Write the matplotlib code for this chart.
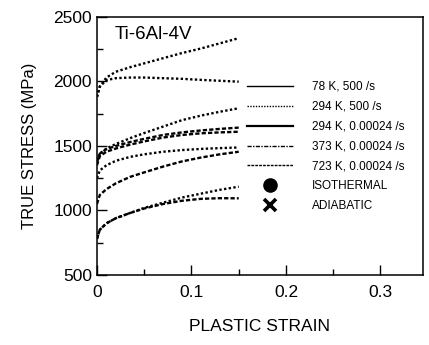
import matplotlib
matplotlib.use("Agg")
import matplotlib.pyplot as plt
from matplotlib.lines import Line2D
from matplotlib.ticker import MultipleLocator

plt.rcParams['font.family'] = ['Liberation Sans', 'DejaVu Sans']

# plastic strain grid shared by all curves
strain = [0, 0.003, 0.01, 0.02, 0.035, 0.05, 0.07, 0.09, 0.11, 0.13, 0.15]

# true stress (MPa)
s78_iso  = [1880, 1960, 2030, 2075, 2110, 2140, 2180, 2220, 2255, 2295, 2335]
s78_adi  = [1880, 1960, 2010, 2025, 2030, 2030, 2025, 2020, 2012, 2005, 1998]
s294_iso = [1380, 1440, 1480, 1515, 1560, 1600, 1650, 1700, 1735, 1765, 1792]
s294_adi = [1380, 1440, 1475, 1500, 1530, 1555, 1585, 1605, 1620, 1632, 1642]
s294_qs  = [1350, 1420, 1455, 1480, 1510, 1535, 1565, 1585, 1598, 1605, 1610]
s373_a   = [1250, 1310, 1350, 1385, 1415, 1435, 1455, 1468, 1477, 1483, 1488]
s373_b   = [1050, 1120, 1165, 1210, 1260, 1295, 1340, 1380, 1410, 1435, 1455]
s723_a   = [780, 850, 900, 940, 980, 1020, 1060, 1100, 1130, 1160, 1184]
s723_b   = [780, 850, 900, 940, 980, 1015, 1050, 1075, 1090, 1095, 1094]

legend_labels = ['78 K, 500 /s', '294 K, 500 /s', '294 K, 0.00024 /s',
                 '373 K, 0.00024 /s', '723 K, 0.00024 /s', 'ISOTHERMAL', 'ADIABATIC']

fig = plt.figure(figsize=(4.29, 3.45), dpi=100)
ax = fig.add_axes([0.226, 0.203, 0.760, 0.748])

dot = (0, (1, 1.0))
dash = (0, (1.8, 0.9))
for y, ls in [(s78_iso, dot), (s78_adi, dot), (s294_iso, dot), (s294_adi, dash),
              (s294_qs, dash), (s373_a, dot), (s373_b, dash), (s723_a, dot), (s723_b, dash)]:
    ax.plot(strain, y, color='black', linestyle=ls, lw=1.7)

ax.set_xlim(0, 0.345)
ax.set_ylim(500, 2500)
ax.xaxis.set_minor_locator(MultipleLocator(0.05))
ax.yaxis.set_major_locator(MultipleLocator(500))
ax.yaxis.set_minor_locator(MultipleLocator(250))
ax.set_xticks([0, 0.1, 0.2, 0.3])
ax.set_xticklabels(['0', '0.1', '0.2', '0.3'])
ax.tick_params(which='both', direction='in', top=False, right=False, labelsize=12.5, width=1)
ax.tick_params(axis='x', pad=7)
ax.tick_params(which='major', length=7)
ax.tick_params(which='minor', length=4)
for sp in ax.spines.values():
    sp.set_linewidth(1.1)

ax.set_xlabel('PLASTIC STRAIN', fontsize=12.5, labelpad=14)
ax.set_ylabel('TRUE STRESS (MPa)', fontsize=12, labelpad=12)
ax.text(0.055, 0.965, 'Ti-6Al-4V', transform=ax.transAxes, fontsize=13.5, va='top')

handles = [
    Line2D([], [], color='black', lw=1.0),
    Line2D([], [], color='black', lw=1.0, linestyle=(0, (1, 1))),
    Line2D([], [], color='black', lw=1.6),
    Line2D([], [], color='black', lw=1.0, linestyle=(0, (3, 1, 1, 1))),
    Line2D([], [], color='black', lw=1.0, linestyle=(0, (2, 0.8))),
    Line2D([], [], color='black', linestyle='none', marker='o', markersize=9.5),
    Line2D([], [], color='black', linestyle='none', marker='x', markersize=8, markeredgewidth=2.6),
]
ax.legend(handles, legend_labels, loc='upper left', bbox_to_anchor=(0.46, 0.752),
          frameon=False, fontsize=8.5, handlelength=3.9, handletextpad=1.6,
          labelspacing=0.67, borderpad=0, borderaxespad=0)

fig.savefig('out.png', dpi=100)
